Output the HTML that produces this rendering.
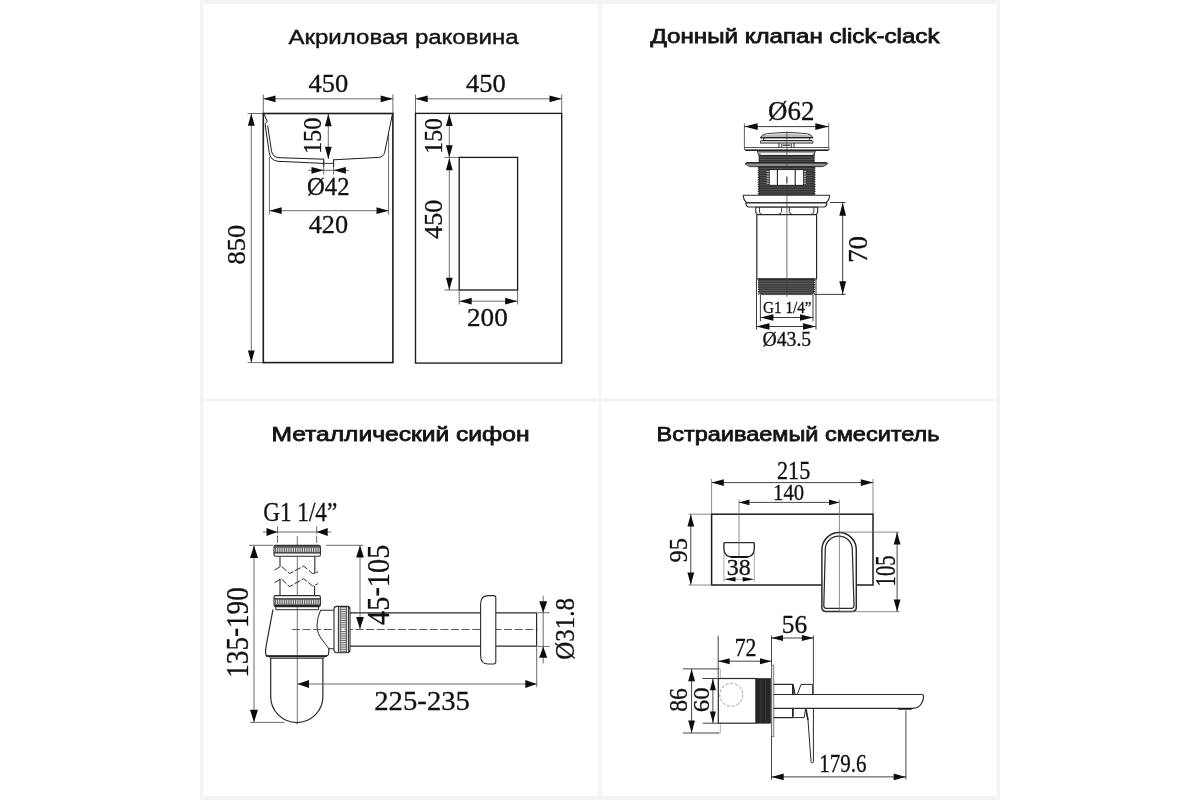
<!DOCTYPE html>
<html lang="ru">
<head>
<meta charset="utf-8">
<title>Размеры комплекта</title>
<style>
html,body{margin:0;padding:0;background:#fff;}
body{width:1200px;height:800px;overflow:hidden;}
svg{display:block;filter:blur(0.45px);}
text.d{font-family:"Liberation Serif",serif;fill:#111;stroke:#111;stroke-width:0.3;}
text.t{font-family:"Liberation Sans",sans-serif;fill:#141414;}
</style>
</head>
<body>
<svg width="1200" height="800" viewBox="0 0 1200 800">
<rect x="0" y="0" width="1200" height="800" fill="#ffffff"/>
<rect x="200" y="0" width="800" height="4" fill="#f3f3f3"/>
<rect x="200" y="796" width="800" height="4" fill="#f3f3f3"/>
<rect x="200" y="0" width="3.5" height="800" fill="#f3f3f3"/>
<rect x="996.5" y="0" width="3.5" height="800" fill="#f3f3f3"/>
<rect x="598.5" y="0" width="3" height="800" fill="#f3f3f3"/>
<rect x="200" y="398.5" width="800" height="3" fill="#f3f3f3"/>
<text class="t" x="288.5" y="43.8" font-size="19.6" textLength="230.0" lengthAdjust="spacingAndGlyphs" stroke="#141414" stroke-width="0.38">Акриловая раковина</text>
<text class="t" x="650.5" y="43.2" font-size="19.6" textLength="289.0" lengthAdjust="spacingAndGlyphs" stroke="#141414" stroke-width="0.75">Донный клапан click-clack</text>
<text class="t" x="271.5" y="441.4" font-size="19.6" textLength="258.0" lengthAdjust="spacingAndGlyphs" stroke="#141414" stroke-width="0.75">Металлический сифон</text>
<text class="t" x="656.5" y="441.4" font-size="19.6" textLength="283.0" lengthAdjust="spacingAndGlyphs" stroke="#141414" stroke-width="0.75">Встраиваемый смеситель</text>
<line x1="263.30" y1="94.50" x2="263.30" y2="113.50" stroke="#5c5c5c" stroke-width="0.9" />
<line x1="392.90" y1="94.50" x2="392.90" y2="113.50" stroke="#5c5c5c" stroke-width="0.9" />
<line x1="263.30" y1="98.80" x2="392.90" y2="98.80" stroke="#5c5c5c" stroke-width="0.9" />
<polygon points="263.30,98.80 275.50,95.40 275.50,102.20" fill="#0d0d0d"/>
<polygon points="392.90,98.80 380.70,95.40 380.70,102.20" fill="#0d0d0d"/>
<text class="d" x="328.30" y="91.80" font-size="25.5" text-anchor="middle" textLength="39.80" lengthAdjust="spacingAndGlyphs">450</text>
<line x1="247.50" y1="113.50" x2="263.30" y2="113.50" stroke="#5c5c5c" stroke-width="0.9" />
<line x1="247.50" y1="362.60" x2="263.30" y2="362.60" stroke="#5c5c5c" stroke-width="0.9" />
<line x1="251.30" y1="113.50" x2="251.30" y2="362.60" stroke="#5c5c5c" stroke-width="0.9" />
<polygon points="251.30,113.50 247.90,125.70 254.70,125.70" fill="#0d0d0d"/>
<polygon points="251.30,362.60 247.90,350.40 254.70,350.40" fill="#0d0d0d"/>
<text class="d" transform="translate(245.40,244.70) rotate(-90)" x="0" y="0" font-size="25.5" text-anchor="middle" textLength="39.60" lengthAdjust="spacingAndGlyphs">850</text>
<line x1="328.30" y1="114.10" x2="328.30" y2="159.00" stroke="#5c5c5c" stroke-width="0.9" />
<polygon points="328.30,114.10 324.90,126.30 331.70,126.30" fill="#0d0d0d"/>
<polygon points="328.30,159.00 324.90,146.80 331.70,146.80" fill="#0d0d0d"/>
<text class="d" transform="translate(320.80,135.80) rotate(-90)" x="0" y="0" font-size="25.5" text-anchor="middle" textLength="36.50" lengthAdjust="spacingAndGlyphs">150</text>
<line x1="323.70" y1="160.00" x2="323.70" y2="174.50" stroke="#5c5c5c" stroke-width="0.9" />
<line x1="333.60" y1="160.00" x2="333.60" y2="174.50" stroke="#5c5c5c" stroke-width="0.9" />
<line x1="308.50" y1="170.30" x2="348.80" y2="170.30" stroke="#5c5c5c" stroke-width="0.9" />
<polygon points="323.70,170.30 311.50,166.90 311.50,173.70" fill="#0d0d0d"/>
<polygon points="333.60,170.30 345.80,166.90 345.80,173.70" fill="#0d0d0d"/>
<text class="d" x="328.30" y="195.20" font-size="25.5" text-anchor="middle" textLength="42.50" lengthAdjust="spacingAndGlyphs">Ø42</text>
<line x1="269.40" y1="157.00" x2="269.40" y2="214.50" stroke="#5c5c5c" stroke-width="0.9" />
<line x1="388.60" y1="134.00" x2="388.60" y2="214.50" stroke="#5c5c5c" stroke-width="0.9" />
<line x1="269.40" y1="210.70" x2="388.70" y2="210.70" stroke="#5c5c5c" stroke-width="0.9" />
<polygon points="269.40,210.70 281.60,207.30 281.60,214.10" fill="#0d0d0d"/>
<polygon points="388.70,210.70 376.50,207.30 376.50,214.10" fill="#0d0d0d"/>
<text class="d" x="328.40" y="232.60" font-size="25.5" text-anchor="middle" textLength="39.50" lengthAdjust="spacingAndGlyphs">420</text>
<path d="M264.3,114.6 L267.2,121.2 L265.4,123.8 L265.2,124.8 L269.2,152.5 Q270.4,160.6 278,161.3 L323.7,163.4" stroke="#1c1c1c" stroke-width="1.0" fill="none" stroke-linejoin="round" stroke-linecap="round" />
<path d="M267.7,126 L271.6,151.4 Q272.6,157.2 279,157.7 L323.7,159.2" stroke="#1c1c1c" stroke-width="1.0" fill="none" stroke-linejoin="round" stroke-linecap="round" />
<path d="M392.3,114.6 L384.7,152.2 Q383.6,157 378.6,157.4 L333.6,159.8" stroke="#1c1c1c" stroke-width="1.0" fill="none" stroke-linejoin="round" stroke-linecap="round" />
<path d="M323.7,159.2 V166.5 M333.6,159.8 V166.5 M323.7,163.4 H333.6" stroke="#1c1c1c" stroke-width="0.9" fill="none" stroke-linejoin="round" stroke-linecap="round" />
<rect x="263.30" y="113.50" width="129.60" height="249.10" rx="0" stroke="#1c1c1c" stroke-width="1.6" fill="none" />
<line x1="415.50" y1="94.50" x2="415.50" y2="113.40" stroke="#5c5c5c" stroke-width="0.9" />
<line x1="561.70" y1="94.50" x2="561.70" y2="113.40" stroke="#5c5c5c" stroke-width="0.9" />
<line x1="415.50" y1="98.80" x2="561.70" y2="98.80" stroke="#5c5c5c" stroke-width="0.9" />
<polygon points="415.50,98.80 427.70,95.40 427.70,102.20" fill="#0d0d0d"/>
<polygon points="561.70,98.80 549.50,95.40 549.50,102.20" fill="#0d0d0d"/>
<text class="d" x="485.80" y="91.80" font-size="25.5" text-anchor="middle" textLength="39.80" lengthAdjust="spacingAndGlyphs">450</text>
<rect x="415.50" y="113.40" width="146.20" height="249.70" rx="0" stroke="#1c1c1c" stroke-width="1.35" fill="none" />
<rect x="459.20" y="157.40" width="58.40" height="132.60" rx="0" stroke="#1c1c1c" stroke-width="1.35" fill="none" />
<line x1="449.30" y1="113.90" x2="449.30" y2="157.40" stroke="#5c5c5c" stroke-width="0.9" />
<polygon points="449.30,113.90 445.90,126.10 452.70,126.10" fill="#0d0d0d"/>
<polygon points="449.30,157.40 445.90,145.20 452.70,145.20" fill="#0d0d0d"/>
<text class="d" transform="translate(442.40,135.90) rotate(-90)" x="0" y="0" font-size="25.5" text-anchor="middle" textLength="35.50" lengthAdjust="spacingAndGlyphs">150</text>
<line x1="444.50" y1="157.40" x2="459.20" y2="157.40" stroke="#5c5c5c" stroke-width="0.9" />
<line x1="444.50" y1="290.00" x2="459.20" y2="290.00" stroke="#5c5c5c" stroke-width="0.9" />
<line x1="449.30" y1="158.00" x2="449.30" y2="290.00" stroke="#5c5c5c" stroke-width="0.9" />
<polygon points="449.30,158.00 445.90,170.20 452.70,170.20" fill="#0d0d0d"/>
<polygon points="449.30,290.00 445.90,277.80 452.70,277.80" fill="#0d0d0d"/>
<text class="d" transform="translate(442.40,219.30) rotate(-90)" x="0" y="0" font-size="25.5" text-anchor="middle" textLength="39.00" lengthAdjust="spacingAndGlyphs">450</text>
<line x1="459.20" y1="290.00" x2="459.20" y2="304.60" stroke="#5c5c5c" stroke-width="0.9" />
<line x1="517.60" y1="290.00" x2="517.60" y2="304.60" stroke="#5c5c5c" stroke-width="0.9" />
<line x1="459.50" y1="301.20" x2="517.30" y2="301.20" stroke="#5c5c5c" stroke-width="0.9" />
<polygon points="459.50,301.20 471.70,297.80 471.70,304.60" fill="#0d0d0d"/>
<polygon points="517.30,301.20 505.10,297.80 505.10,304.60" fill="#0d0d0d"/>
<text class="d" x="487.40" y="326.00" font-size="25.5" text-anchor="middle" textLength="40.80" lengthAdjust="spacingAndGlyphs">200</text>
<line x1="744.40" y1="123.50" x2="744.40" y2="147.20" stroke="#3c3c3c" stroke-width="0.8" />
<line x1="828.70" y1="123.50" x2="828.70" y2="147.20" stroke="#3c3c3c" stroke-width="0.8" />
<line x1="744.40" y1="126.60" x2="828.60" y2="126.60" stroke="#3c3c3c" stroke-width="1.0" />
<polygon points="744.40,126.60 757.70,123.20 757.70,130.00" fill="#0d0d0d"/>
<polygon points="828.60,126.60 815.30,123.20 815.30,130.00" fill="#0d0d0d"/>
<text class="d" x="791.30" y="120.40" font-size="26.8" text-anchor="middle" textLength="46.40" lengthAdjust="spacingAndGlyphs">Ø62</text>
<path d="M760.6,137.4 Q761.6,134.6 767.5,133.6 Q786.9,131 806.3,133.6 Q811.8,134.6 812.8,137.4 Z" stroke="#2a2a2a" stroke-width="0.9" fill="#b9b9b9" stroke-linejoin="round" stroke-linecap="round" />
<path d="M766,134.6 Q786.9,132.4 807.6,134.6" stroke="#e8e8e8" stroke-width="0.9" fill="none" stroke-linejoin="round" stroke-linecap="round" />
<line x1="760.40" y1="137.60" x2="813.00" y2="137.60" stroke="#222" stroke-width="1.3" />
<path d="M763.6,138.4 V140.4 M809.6,138.4 V140.4" stroke="#2a2a2a" stroke-width="0.9" fill="none" stroke-linejoin="round" stroke-linecap="round" />
<line x1="761.40" y1="140.60" x2="812.00" y2="140.60" stroke="#222" stroke-width="1.1" />
<line x1="760.60" y1="143.00" x2="812.80" y2="143.00" stroke="#222" stroke-width="1.2" />
<path d="M760.6,140.8 V143 M812.8,140.8 V143" stroke="#2a2a2a" stroke-width="0.9" fill="none" stroke-linejoin="round" stroke-linecap="round" />
<path d="M779,143.4 V147.2 M794,143.4 V147.2 M781.8,144 V147 M791.2,144 V147" stroke="#2a2a2a" stroke-width="1.0" fill="none" stroke-linejoin="round" stroke-linecap="round" />
<line x1="783.00" y1="145.20" x2="790.00" y2="145.20" stroke="#333" stroke-width="1.3" />
<path d="M744.6,147.5 H829 V149.6 Q829,150.3 828,150.3 H745.6 Q744.6,150.3 744.6,149.6 Z" stroke="#2a2a2a" stroke-width="0.8" fill="#fff" stroke-linejoin="round" stroke-linecap="round" />
<line x1="745.20" y1="150.20" x2="828.40" y2="150.20" stroke="#1c1c1c" stroke-width="1.5" />
<path d="M757.8,151 H815.2 L814.2,155.2 H759 Z" stroke="#2a2a2a" stroke-width="0.9" fill="#a0a0a0" stroke-linejoin="round" stroke-linecap="round" />
<rect x="760.60" y="153.00" width="52.00" height="1.80" rx="0" stroke="none" stroke-width="0" fill="#f4f4f4" />
<rect x="759.00" y="155.40" width="55.20" height="7.60" rx="0" stroke="#1a1a1a" stroke-width="0.6" fill="#333" />
<line x1="759.40" y1="157.20" x2="813.80" y2="157.20" stroke="#7a7a7a" stroke-width="0.5" />
<line x1="759.40" y1="159.50" x2="813.80" y2="159.50" stroke="#7a7a7a" stroke-width="0.5" />
<line x1="759.40" y1="161.80" x2="813.80" y2="161.80" stroke="#7a7a7a" stroke-width="0.5" />
<path d="M745.2,163.6 Q745.6,162.6 747.4,162.6 H825.6 Q827.4,162.6 827.8,163.6 L823.2,166.6 H749.8 Z" stroke="#2a2a2a" stroke-width="0.9" fill="#8f8f8f" stroke-linejoin="round" stroke-linecap="round" />
<line x1="746.40" y1="162.90" x2="826.60" y2="162.90" stroke="#222" stroke-width="1.2" />
<rect x="759.00" y="166.80" width="55.20" height="28.20" rx="0" stroke="#1a1a1a" stroke-width="0.6" fill="#333" />
<line x1="759.40" y1="168.40" x2="813.80" y2="168.40" stroke="#777" stroke-width="0.5" />
<line x1="759.40" y1="170.75" x2="813.80" y2="170.75" stroke="#777" stroke-width="0.5" />
<line x1="759.40" y1="173.10" x2="813.80" y2="173.10" stroke="#777" stroke-width="0.5" />
<line x1="759.40" y1="175.45" x2="813.80" y2="175.45" stroke="#777" stroke-width="0.5" />
<line x1="759.40" y1="177.80" x2="813.80" y2="177.80" stroke="#777" stroke-width="0.5" />
<line x1="759.40" y1="180.15" x2="813.80" y2="180.15" stroke="#777" stroke-width="0.5" />
<line x1="759.40" y1="182.50" x2="813.80" y2="182.50" stroke="#777" stroke-width="0.5" />
<line x1="759.40" y1="184.85" x2="813.80" y2="184.85" stroke="#777" stroke-width="0.5" />
<line x1="759.40" y1="187.20" x2="813.80" y2="187.20" stroke="#777" stroke-width="0.5" />
<line x1="759.40" y1="189.55" x2="813.80" y2="189.55" stroke="#777" stroke-width="0.5" />
<line x1="759.40" y1="191.90" x2="813.80" y2="191.90" stroke="#777" stroke-width="0.5" />
<line x1="759.40" y1="194.25" x2="813.80" y2="194.25" stroke="#777" stroke-width="0.5" />
<line x1="757.80" y1="167.90" x2="759.20" y2="167.90" stroke="#1a1a1a" stroke-width="1.2" />
<line x1="814.00" y1="167.90" x2="815.40" y2="167.90" stroke="#1a1a1a" stroke-width="1.2" />
<line x1="757.80" y1="170.25" x2="759.20" y2="170.25" stroke="#1a1a1a" stroke-width="1.2" />
<line x1="814.00" y1="170.25" x2="815.40" y2="170.25" stroke="#1a1a1a" stroke-width="1.2" />
<line x1="757.80" y1="172.60" x2="759.20" y2="172.60" stroke="#1a1a1a" stroke-width="1.2" />
<line x1="814.00" y1="172.60" x2="815.40" y2="172.60" stroke="#1a1a1a" stroke-width="1.2" />
<line x1="757.80" y1="174.95" x2="759.20" y2="174.95" stroke="#1a1a1a" stroke-width="1.2" />
<line x1="814.00" y1="174.95" x2="815.40" y2="174.95" stroke="#1a1a1a" stroke-width="1.2" />
<line x1="757.80" y1="177.30" x2="759.20" y2="177.30" stroke="#1a1a1a" stroke-width="1.2" />
<line x1="814.00" y1="177.30" x2="815.40" y2="177.30" stroke="#1a1a1a" stroke-width="1.2" />
<line x1="757.80" y1="179.65" x2="759.20" y2="179.65" stroke="#1a1a1a" stroke-width="1.2" />
<line x1="814.00" y1="179.65" x2="815.40" y2="179.65" stroke="#1a1a1a" stroke-width="1.2" />
<line x1="757.80" y1="182.00" x2="759.20" y2="182.00" stroke="#1a1a1a" stroke-width="1.2" />
<line x1="814.00" y1="182.00" x2="815.40" y2="182.00" stroke="#1a1a1a" stroke-width="1.2" />
<line x1="757.80" y1="184.35" x2="759.20" y2="184.35" stroke="#1a1a1a" stroke-width="1.2" />
<line x1="814.00" y1="184.35" x2="815.40" y2="184.35" stroke="#1a1a1a" stroke-width="1.2" />
<line x1="757.80" y1="186.70" x2="759.20" y2="186.70" stroke="#1a1a1a" stroke-width="1.2" />
<line x1="814.00" y1="186.70" x2="815.40" y2="186.70" stroke="#1a1a1a" stroke-width="1.2" />
<line x1="757.80" y1="189.05" x2="759.20" y2="189.05" stroke="#1a1a1a" stroke-width="1.2" />
<line x1="814.00" y1="189.05" x2="815.40" y2="189.05" stroke="#1a1a1a" stroke-width="1.2" />
<line x1="757.80" y1="191.40" x2="759.20" y2="191.40" stroke="#1a1a1a" stroke-width="1.2" />
<line x1="814.00" y1="191.40" x2="815.40" y2="191.40" stroke="#1a1a1a" stroke-width="1.2" />
<line x1="757.80" y1="193.75" x2="759.20" y2="193.75" stroke="#1a1a1a" stroke-width="1.2" />
<line x1="814.00" y1="193.75" x2="815.40" y2="193.75" stroke="#1a1a1a" stroke-width="1.2" />
<rect x="769.20" y="169.60" width="34.20" height="15.70" rx="0" stroke="#1a1a1a" stroke-width="0.9" fill="#ffffff" />
<line x1="777.40" y1="170.00" x2="777.40" y2="185.00" stroke="#222" stroke-width="1.1" />
<line x1="795.20" y1="170.00" x2="795.20" y2="185.00" stroke="#222" stroke-width="1.1" />
<line x1="786.90" y1="176.40" x2="786.90" y2="183.60" stroke="#222" stroke-width="1.1" />
<line x1="766.60" y1="171.60" x2="769.00" y2="171.60" stroke="#e6e6e6" stroke-width="0.8" />
<line x1="803.60" y1="171.60" x2="806.00" y2="171.60" stroke="#e6e6e6" stroke-width="0.8" />
<line x1="766.60" y1="173.95" x2="769.00" y2="173.95" stroke="#e6e6e6" stroke-width="0.8" />
<line x1="803.60" y1="173.95" x2="806.00" y2="173.95" stroke="#e6e6e6" stroke-width="0.8" />
<line x1="766.60" y1="176.30" x2="769.00" y2="176.30" stroke="#e6e6e6" stroke-width="0.8" />
<line x1="803.60" y1="176.30" x2="806.00" y2="176.30" stroke="#e6e6e6" stroke-width="0.8" />
<line x1="766.60" y1="178.65" x2="769.00" y2="178.65" stroke="#e6e6e6" stroke-width="0.8" />
<line x1="803.60" y1="178.65" x2="806.00" y2="178.65" stroke="#e6e6e6" stroke-width="0.8" />
<line x1="766.60" y1="181.00" x2="769.00" y2="181.00" stroke="#e6e6e6" stroke-width="0.8" />
<line x1="803.60" y1="181.00" x2="806.00" y2="181.00" stroke="#e6e6e6" stroke-width="0.8" />
<line x1="766.60" y1="183.35" x2="769.00" y2="183.35" stroke="#e6e6e6" stroke-width="0.8" />
<line x1="803.60" y1="183.35" x2="806.00" y2="183.35" stroke="#e6e6e6" stroke-width="0.8" />
<path d="M743.2,195.2 H829.6 Q829.6,199.6 826,202.7 H746.8 Q743.2,199.6 743.2,195.2 Z" stroke="#2a2a2a" stroke-width="1.1" fill="#ffffff" stroke-linejoin="round" stroke-linecap="round" />
<path d="M745.8,202.9 H827 Q827.2,205.6 824.6,207 H748.2 Q745.6,205.6 745.8,202.9 Z" stroke="#2a2a2a" stroke-width="1.1" fill="#ffffff" stroke-linejoin="round" stroke-linecap="round" />
<path d="M755.8,207.2 H817.6 V212.6 L815.8,214.6 H757.6 L755.8,212.6 Z" stroke="#2a2a2a" stroke-width="1.1" fill="#ffffff" stroke-linejoin="round" stroke-linecap="round" />
<path d="M759.5,207.4 V212 Q759.5,214.2 762,214.4 M781.6,207.4 V211.5 Q781.6,214 778.5,214.4 M789.3,207.4 V211.5 Q789.3,214 792.4,214.4 M813.9,207.4 V212 Q813.9,214.2 811.4,214.4" stroke="#2a2a2a" stroke-width="0.9" fill="none" stroke-linejoin="round" stroke-linecap="round" />
<path d="M756.8,214.8 V278.8 M816.6,214.8 V278.8 M756.8,278.8 H816.6" stroke="#2a2a2a" stroke-width="1.2" fill="none" stroke-linejoin="round" stroke-linecap="round" />
<path d="M759.2,279 H813.8 V292.4 L812.4,294.6 H760.6 L759.2,292.4 Z" stroke="#1a1a1a" stroke-width="0.6" fill="#3a3a3a" stroke-linejoin="round" stroke-linecap="round" />
<line x1="759.60" y1="281.20" x2="813.40" y2="281.20" stroke="#858585" stroke-width="0.5" />
<line x1="759.60" y1="283.50" x2="813.40" y2="283.50" stroke="#858585" stroke-width="0.5" />
<line x1="759.60" y1="285.80" x2="813.40" y2="285.80" stroke="#858585" stroke-width="0.5" />
<line x1="759.60" y1="288.10" x2="813.40" y2="288.10" stroke="#858585" stroke-width="0.5" />
<line x1="759.60" y1="290.40" x2="813.40" y2="290.40" stroke="#858585" stroke-width="0.5" />
<line x1="759.60" y1="292.70" x2="813.40" y2="292.70" stroke="#858585" stroke-width="0.5" />
<line x1="757.90" y1="280.20" x2="759.40" y2="280.20" stroke="#1a1a1a" stroke-width="1.2" />
<line x1="813.60" y1="280.20" x2="815.10" y2="280.20" stroke="#1a1a1a" stroke-width="1.2" />
<line x1="757.90" y1="282.50" x2="759.40" y2="282.50" stroke="#1a1a1a" stroke-width="1.2" />
<line x1="813.60" y1="282.50" x2="815.10" y2="282.50" stroke="#1a1a1a" stroke-width="1.2" />
<line x1="757.90" y1="284.80" x2="759.40" y2="284.80" stroke="#1a1a1a" stroke-width="1.2" />
<line x1="813.60" y1="284.80" x2="815.10" y2="284.80" stroke="#1a1a1a" stroke-width="1.2" />
<line x1="757.90" y1="287.10" x2="759.40" y2="287.10" stroke="#1a1a1a" stroke-width="1.2" />
<line x1="813.60" y1="287.10" x2="815.10" y2="287.10" stroke="#1a1a1a" stroke-width="1.2" />
<line x1="757.90" y1="289.40" x2="759.40" y2="289.40" stroke="#1a1a1a" stroke-width="1.2" />
<line x1="813.60" y1="289.40" x2="815.10" y2="289.40" stroke="#1a1a1a" stroke-width="1.2" />
<line x1="757.90" y1="291.70" x2="759.40" y2="291.70" stroke="#1a1a1a" stroke-width="1.2" />
<line x1="813.60" y1="291.70" x2="815.10" y2="291.70" stroke="#1a1a1a" stroke-width="1.2" />
<line x1="757.90" y1="294.00" x2="759.40" y2="294.00" stroke="#1a1a1a" stroke-width="1.2" />
<line x1="813.60" y1="294.00" x2="815.10" y2="294.00" stroke="#1a1a1a" stroke-width="1.2" />
<line x1="786.90" y1="131.50" x2="786.90" y2="169.40" stroke="#3a3a3a" stroke-width="0.7" />
<line x1="786.90" y1="185.40" x2="786.90" y2="297.00" stroke="#3a3a3a" stroke-width="0.7" />
<line x1="830.00" y1="202.50" x2="845.50" y2="202.50" stroke="#3c3c3c" stroke-width="1.0" />
<line x1="814.80" y1="294.40" x2="845.60" y2="294.40" stroke="#3c3c3c" stroke-width="1.0" />
<line x1="842.70" y1="202.80" x2="842.70" y2="294.20" stroke="#3c3c3c" stroke-width="1.0" />
<polygon points="842.70,202.80 839.30,215.80 846.10,215.80" fill="#0d0d0d"/>
<polygon points="842.70,294.20 839.30,281.20 846.10,281.20" fill="#0d0d0d"/>
<text class="d" transform="translate(866.70,249.40) rotate(-90)" x="0" y="0" font-size="26.5" text-anchor="middle" textLength="26.80" lengthAdjust="spacingAndGlyphs">70</text>
<line x1="760.40" y1="295.00" x2="760.40" y2="321.30" stroke="#3c3c3c" stroke-width="1.0" />
<line x1="813.00" y1="295.00" x2="813.00" y2="321.30" stroke="#3c3c3c" stroke-width="1.0" />
<line x1="760.40" y1="317.50" x2="813.00" y2="317.50" stroke="#3c3c3c" stroke-width="1.0" />
<polygon points="760.40,317.50 773.40,314.30 773.40,320.70" fill="#0d0d0d"/>
<polygon points="813.00,317.50 800.00,314.30 800.00,320.70" fill="#0d0d0d"/>
<text class="d" x="787.30" y="312.70" font-size="17.2" text-anchor="middle" textLength="48.60" lengthAdjust="spacingAndGlyphs">G1 1/4”</text>
<line x1="756.50" y1="279.00" x2="756.50" y2="329.50" stroke="#3c3c3c" stroke-width="1.0" />
<line x1="816.00" y1="279.00" x2="816.00" y2="329.50" stroke="#3c3c3c" stroke-width="1.0" />
<line x1="756.50" y1="326.50" x2="816.00" y2="326.50" stroke="#3c3c3c" stroke-width="1.0" />
<polygon points="756.50,326.50 769.50,323.20 769.50,329.80" fill="#0d0d0d"/>
<polygon points="816.00,326.50 803.00,323.20 803.00,329.80" fill="#0d0d0d"/>
<text class="d" x="786.80" y="345.80" font-size="20" text-anchor="middle" textLength="48.80" lengthAdjust="spacingAndGlyphs">Ø43.5</text>
<text class="d" x="300.20" y="520.80" font-size="27.7" text-anchor="middle" textLength="74.00" lengthAdjust="spacingAndGlyphs">G1 1/4”</text>
<line x1="277.50" y1="526.40" x2="277.50" y2="544.50" stroke="#5c5c5c" stroke-width="0.9" stroke-dasharray="7.4 1.8"/>
<line x1="316.70" y1="526.40" x2="316.70" y2="544.50" stroke="#5c5c5c" stroke-width="0.9" stroke-dasharray="7.4 1.8"/>
<line x1="262.90" y1="532.00" x2="331.30" y2="532.00" stroke="#5c5c5c" stroke-width="0.9" />
<polygon points="277.50,532.00 266.50,528.10 266.50,535.90" fill="#0d0d0d"/>
<polygon points="316.70,532.00 327.70,528.10 327.70,535.90" fill="#0d0d0d"/>
<line x1="297.30" y1="536.00" x2="297.30" y2="724.50" stroke="#3a3a3a" stroke-width="0.7" />
<line x1="292.00" y1="629.50" x2="537.50" y2="629.50" stroke="#4a4a4a" stroke-width="0.9" stroke-dasharray="8 2.6"/>
<path d="M275.4,545.2 H319.0 Q320.4,545.2 320.4,547.0 V554.5 Q320.4,556.3 319.0,556.3 H275.4 Q274.0,556.3 274.0,554.5 V547.0 Q274.0,545.2 275.4,545.2 Z" stroke="#2a2a2a" stroke-width="1.1" fill="#fff" stroke-linejoin="round" stroke-linecap="round" />
<line x1="274.60" y1="546.10" x2="319.80" y2="546.10" stroke="#222" stroke-width="1.5" />
<line x1="274.00" y1="553.00" x2="320.40" y2="553.00" stroke="#222" stroke-width="1.1" />
<line x1="274.00" y1="547.40" x2="320.40" y2="547.40" stroke="#2a2a2a" stroke-width="0.7" />
<line x1="274.00" y1="552.40" x2="320.40" y2="552.40" stroke="#2a2a2a" stroke-width="0.7" />
<line x1="275.60" y1="547.70" x2="275.60" y2="552.20" stroke="#2a2a2a" stroke-width="0.8" />
<line x1="277.40" y1="547.70" x2="277.40" y2="552.20" stroke="#2a2a2a" stroke-width="0.8" />
<line x1="279.20" y1="547.70" x2="279.20" y2="552.20" stroke="#2a2a2a" stroke-width="0.8" />
<line x1="281.00" y1="547.70" x2="281.00" y2="552.20" stroke="#2a2a2a" stroke-width="0.8" />
<line x1="282.80" y1="547.70" x2="282.80" y2="552.20" stroke="#2a2a2a" stroke-width="0.8" />
<line x1="284.60" y1="547.70" x2="284.60" y2="552.20" stroke="#2a2a2a" stroke-width="0.8" />
<line x1="286.40" y1="547.70" x2="286.40" y2="552.20" stroke="#2a2a2a" stroke-width="0.8" />
<line x1="288.20" y1="547.70" x2="288.20" y2="552.20" stroke="#2a2a2a" stroke-width="0.8" />
<line x1="290.00" y1="547.70" x2="290.00" y2="552.20" stroke="#2a2a2a" stroke-width="0.8" />
<line x1="291.80" y1="547.70" x2="291.80" y2="552.20" stroke="#2a2a2a" stroke-width="0.8" />
<line x1="293.60" y1="547.70" x2="293.60" y2="552.20" stroke="#2a2a2a" stroke-width="0.8" />
<line x1="295.40" y1="547.70" x2="295.40" y2="552.20" stroke="#2a2a2a" stroke-width="0.8" />
<line x1="297.20" y1="547.70" x2="297.20" y2="552.20" stroke="#2a2a2a" stroke-width="0.8" />
<line x1="299.00" y1="547.70" x2="299.00" y2="552.20" stroke="#2a2a2a" stroke-width="0.8" />
<line x1="300.80" y1="547.70" x2="300.80" y2="552.20" stroke="#2a2a2a" stroke-width="0.8" />
<line x1="302.60" y1="547.70" x2="302.60" y2="552.20" stroke="#2a2a2a" stroke-width="0.8" />
<line x1="304.40" y1="547.70" x2="304.40" y2="552.20" stroke="#2a2a2a" stroke-width="0.8" />
<line x1="306.20" y1="547.70" x2="306.20" y2="552.20" stroke="#2a2a2a" stroke-width="0.8" />
<line x1="308.00" y1="547.70" x2="308.00" y2="552.20" stroke="#2a2a2a" stroke-width="0.8" />
<line x1="309.80" y1="547.70" x2="309.80" y2="552.20" stroke="#2a2a2a" stroke-width="0.8" />
<line x1="311.60" y1="547.70" x2="311.60" y2="552.20" stroke="#2a2a2a" stroke-width="0.8" />
<line x1="313.40" y1="547.70" x2="313.40" y2="552.20" stroke="#2a2a2a" stroke-width="0.8" />
<line x1="315.20" y1="547.70" x2="315.20" y2="552.20" stroke="#2a2a2a" stroke-width="0.8" />
<line x1="317.00" y1="547.70" x2="317.00" y2="552.20" stroke="#2a2a2a" stroke-width="0.8" />
<line x1="318.80" y1="547.70" x2="318.80" y2="552.20" stroke="#2a2a2a" stroke-width="0.8" />
<path d="M280.0,556.5 V566 M314.8,556.5 V573.4" stroke="#2a2a2a" stroke-width="1.1" fill="none" stroke-linejoin="round" stroke-linecap="round" />
<path d="M274.6,570 L281.2,566.1 L289.5,573.6 L303.7,566.1 L312.6,573.6 L318,571.8" stroke="#2a2a2a" stroke-width="1.0" fill="none" stroke-linejoin="round" stroke-linecap="butt" stroke-dasharray="6.5 1.8"/>
<path d="M274.6,582.5 L281.2,578.7 L289.5,586.7 L303.7,578.7 L312.6,586 L318,583.7" stroke="#2a2a2a" stroke-width="1.0" fill="none" stroke-linejoin="round" stroke-linecap="butt" stroke-dasharray="6.5 1.8"/>
<path d="M280.0,579 V595.6 M314.6,586.4 V595.6" stroke="#2a2a2a" stroke-width="1.1" fill="none" stroke-linejoin="round" stroke-linecap="round" />
<path d="M275.4,595.6 H319.0 Q320.4,595.6 320.4,597.4 V604.8000000000001 Q320.4,606.6 319.0,606.6 H275.4 Q274.0,606.6 274.0,604.8000000000001 V597.4 Q274.0,595.6 275.4,595.6 Z" stroke="#2a2a2a" stroke-width="1.1" fill="#fff" stroke-linejoin="round" stroke-linecap="round" />
<line x1="274.00" y1="598.80" x2="320.40" y2="598.80" stroke="#222" stroke-width="1.1" />
<line x1="274.60" y1="605.80" x2="319.80" y2="605.80" stroke="#222" stroke-width="1.4" />
<line x1="274.00" y1="599.30" x2="320.40" y2="599.30" stroke="#2a2a2a" stroke-width="0.7" />
<line x1="274.00" y1="604.40" x2="320.40" y2="604.40" stroke="#2a2a2a" stroke-width="0.7" />
<line x1="275.60" y1="599.60" x2="275.60" y2="604.20" stroke="#2a2a2a" stroke-width="0.8" />
<line x1="277.40" y1="599.60" x2="277.40" y2="604.20" stroke="#2a2a2a" stroke-width="0.8" />
<line x1="279.20" y1="599.60" x2="279.20" y2="604.20" stroke="#2a2a2a" stroke-width="0.8" />
<line x1="281.00" y1="599.60" x2="281.00" y2="604.20" stroke="#2a2a2a" stroke-width="0.8" />
<line x1="282.80" y1="599.60" x2="282.80" y2="604.20" stroke="#2a2a2a" stroke-width="0.8" />
<line x1="284.60" y1="599.60" x2="284.60" y2="604.20" stroke="#2a2a2a" stroke-width="0.8" />
<line x1="286.40" y1="599.60" x2="286.40" y2="604.20" stroke="#2a2a2a" stroke-width="0.8" />
<line x1="288.20" y1="599.60" x2="288.20" y2="604.20" stroke="#2a2a2a" stroke-width="0.8" />
<line x1="290.00" y1="599.60" x2="290.00" y2="604.20" stroke="#2a2a2a" stroke-width="0.8" />
<line x1="291.80" y1="599.60" x2="291.80" y2="604.20" stroke="#2a2a2a" stroke-width="0.8" />
<line x1="293.60" y1="599.60" x2="293.60" y2="604.20" stroke="#2a2a2a" stroke-width="0.8" />
<line x1="295.40" y1="599.60" x2="295.40" y2="604.20" stroke="#2a2a2a" stroke-width="0.8" />
<line x1="297.20" y1="599.60" x2="297.20" y2="604.20" stroke="#2a2a2a" stroke-width="0.8" />
<line x1="299.00" y1="599.60" x2="299.00" y2="604.20" stroke="#2a2a2a" stroke-width="0.8" />
<line x1="300.80" y1="599.60" x2="300.80" y2="604.20" stroke="#2a2a2a" stroke-width="0.8" />
<line x1="302.60" y1="599.60" x2="302.60" y2="604.20" stroke="#2a2a2a" stroke-width="0.8" />
<line x1="304.40" y1="599.60" x2="304.40" y2="604.20" stroke="#2a2a2a" stroke-width="0.8" />
<line x1="306.20" y1="599.60" x2="306.20" y2="604.20" stroke="#2a2a2a" stroke-width="0.8" />
<line x1="308.00" y1="599.60" x2="308.00" y2="604.20" stroke="#2a2a2a" stroke-width="0.8" />
<line x1="309.80" y1="599.60" x2="309.80" y2="604.20" stroke="#2a2a2a" stroke-width="0.8" />
<line x1="311.60" y1="599.60" x2="311.60" y2="604.20" stroke="#2a2a2a" stroke-width="0.8" />
<line x1="313.40" y1="599.60" x2="313.40" y2="604.20" stroke="#2a2a2a" stroke-width="0.8" />
<line x1="315.20" y1="599.60" x2="315.20" y2="604.20" stroke="#2a2a2a" stroke-width="0.8" />
<line x1="317.00" y1="599.60" x2="317.00" y2="604.20" stroke="#2a2a2a" stroke-width="0.8" />
<line x1="318.80" y1="599.60" x2="318.80" y2="604.20" stroke="#2a2a2a" stroke-width="0.8" />
<path d="M275.8,606.8 V609.7 H318.6 V606.8" stroke="#2a2a2a" stroke-width="1.0" fill="none" stroke-linejoin="round" stroke-linecap="round" />
<path d="M272.9,609.8 L267.4,639 Q265.5,649 265.5,652.6 Q265.5,655 267,655.8 H327 Q328.8,655.2 328.8,652.4 L328.8,648.6" stroke="#2a2a2a" stroke-width="1.2" fill="none" stroke-linejoin="round" stroke-linecap="round" />
<path d="M320.5,610.3 Q317.2,618 317,625 Q317,634 322.4,640 L328.8,648.6" stroke="#2a2a2a" stroke-width="1.0" fill="none" stroke-linejoin="round" stroke-linecap="round" />
<path d="M320.5,610.3 H334 M328.8,648.8 H334" stroke="#2a2a2a" stroke-width="1.1" fill="none" stroke-linejoin="round" stroke-linecap="round" />
<path d="M266,655.6 Q269.6,656.2 270.6,658.4 M327,655.6 Q323.6,656.4 323,658.4" stroke="#2a2a2a" stroke-width="0.9" fill="none" stroke-linejoin="round" stroke-linecap="round" />
<path d="M270.7,658.2 H322.9 M270.7,658.2 V696.5 A26.1,26.1 0 0 0 322.9,696.5 V658.2" stroke="#2a2a2a" stroke-width="1.2" fill="none" stroke-linejoin="round" stroke-linecap="round" />
<line x1="266.40" y1="656.20" x2="327.00" y2="656.20" stroke="#222" stroke-width="1.5" />
<path d="M336.6,606.4 H347.4 Q350,606.6 350,609.4 V649.8 Q350,652.5 347.4,652.7 H336.6 Q334,652.5 334,649.8 V609.4 Q334,606.6 336.6,606.4 Z" stroke="#2a2a2a" stroke-width="1.1" fill="#fff" stroke-linejoin="round" stroke-linecap="round" />
<line x1="338.40" y1="606.80" x2="338.40" y2="652.40" stroke="#222" stroke-width="1.0" />
<line x1="340.20" y1="606.60" x2="340.20" y2="652.60" stroke="#2a2a2a" stroke-width="0.8" />
<line x1="346.40" y1="606.60" x2="346.40" y2="652.60" stroke="#2a2a2a" stroke-width="0.8" />
<line x1="348.40" y1="606.80" x2="348.40" y2="652.40" stroke="#222" stroke-width="1.0" />
<line x1="340.40" y1="607.80" x2="346.20" y2="607.80" stroke="#3a3a3a" stroke-width="0.75" />
<line x1="340.40" y1="609.62" x2="346.20" y2="609.62" stroke="#3a3a3a" stroke-width="0.75" />
<line x1="340.40" y1="611.44" x2="346.20" y2="611.44" stroke="#3a3a3a" stroke-width="0.75" />
<line x1="340.40" y1="613.26" x2="346.20" y2="613.26" stroke="#3a3a3a" stroke-width="0.75" />
<line x1="340.40" y1="615.08" x2="346.20" y2="615.08" stroke="#3a3a3a" stroke-width="0.75" />
<line x1="340.40" y1="616.90" x2="346.20" y2="616.90" stroke="#3a3a3a" stroke-width="0.75" />
<line x1="340.40" y1="618.72" x2="346.20" y2="618.72" stroke="#3a3a3a" stroke-width="0.75" />
<line x1="340.40" y1="620.54" x2="346.20" y2="620.54" stroke="#3a3a3a" stroke-width="0.75" />
<line x1="340.40" y1="622.36" x2="346.20" y2="622.36" stroke="#3a3a3a" stroke-width="0.75" />
<line x1="340.40" y1="624.18" x2="346.20" y2="624.18" stroke="#3a3a3a" stroke-width="0.75" />
<line x1="340.40" y1="626.00" x2="346.20" y2="626.00" stroke="#3a3a3a" stroke-width="0.75" />
<line x1="340.40" y1="627.82" x2="346.20" y2="627.82" stroke="#3a3a3a" stroke-width="0.75" />
<line x1="340.40" y1="629.64" x2="346.20" y2="629.64" stroke="#3a3a3a" stroke-width="0.75" />
<line x1="340.40" y1="631.46" x2="346.20" y2="631.46" stroke="#3a3a3a" stroke-width="0.75" />
<line x1="340.40" y1="633.28" x2="346.20" y2="633.28" stroke="#3a3a3a" stroke-width="0.75" />
<line x1="340.40" y1="635.10" x2="346.20" y2="635.10" stroke="#3a3a3a" stroke-width="0.75" />
<line x1="340.40" y1="636.92" x2="346.20" y2="636.92" stroke="#3a3a3a" stroke-width="0.75" />
<line x1="340.40" y1="638.74" x2="346.20" y2="638.74" stroke="#3a3a3a" stroke-width="0.75" />
<line x1="340.40" y1="640.56" x2="346.20" y2="640.56" stroke="#3a3a3a" stroke-width="0.75" />
<line x1="340.40" y1="642.38" x2="346.20" y2="642.38" stroke="#3a3a3a" stroke-width="0.75" />
<line x1="340.40" y1="644.20" x2="346.20" y2="644.20" stroke="#3a3a3a" stroke-width="0.75" />
<line x1="340.40" y1="646.02" x2="346.20" y2="646.02" stroke="#3a3a3a" stroke-width="0.75" />
<line x1="340.40" y1="647.84" x2="346.20" y2="647.84" stroke="#3a3a3a" stroke-width="0.75" />
<line x1="340.40" y1="649.66" x2="346.20" y2="649.66" stroke="#3a3a3a" stroke-width="0.75" />
<line x1="340.40" y1="651.48" x2="346.20" y2="651.48" stroke="#3a3a3a" stroke-width="0.75" />
<rect x="342.00" y="628.60" width="2.60" height="2.20" rx="0" stroke="none" stroke-width="0" fill="#fff" />
<path d="M350,612.8 H480.6 M350,646.1 H480.6 M495.6,612.8 H536.6 V646.1 H495.6" stroke="#2a2a2a" stroke-width="1.2" fill="none" stroke-linejoin="round" stroke-linecap="round" />
<path d="M488.2,595.6 H493.6 Q495.8,595.6 495.8,597.8 V661.8 Q495.8,664 493.6,664 H488.2 Q480.6,664 480.6,655.4 V604.2 Q480.6,595.6 488.2,595.6 Z" stroke="#2a2a2a" stroke-width="1.1" fill="#fff" stroke-linejoin="round" stroke-linecap="round" />
<line x1="249.00" y1="545.30" x2="273.00" y2="545.30" stroke="#5c5c5c" stroke-width="0.9" />
<line x1="250.00" y1="722.40" x2="284.50" y2="722.40" stroke="#5c5c5c" stroke-width="0.9" />
<line x1="254.00" y1="545.50" x2="254.00" y2="722.20" stroke="#5c5c5c" stroke-width="0.9" />
<polygon points="254.00,545.50 250.00,557.90 258.00,557.90" fill="#0d0d0d"/>
<polygon points="254.00,722.20 250.00,709.80 258.00,709.80" fill="#0d0d0d"/>
<text class="d" transform="translate(248.10,632.50) rotate(-90)" x="0" y="0" font-size="31.5" text-anchor="middle" textLength="90.60" lengthAdjust="spacingAndGlyphs">135<tspan dy="-4.2">-</tspan><tspan dy="4.2">190</tspan></text>
<line x1="325.80" y1="545.30" x2="363.20" y2="545.30" stroke="#5c5c5c" stroke-width="0.9" />
<line x1="360.00" y1="545.50" x2="360.00" y2="629.00" stroke="#5c5c5c" stroke-width="0.9" />
<polygon points="360.00,545.50 356.10,557.50 363.90,557.50" fill="#0d0d0d"/>
<polygon points="360.00,629.00 356.10,617.00 363.90,617.00" fill="#0d0d0d"/>
<text class="d" transform="translate(388.90,584.80) rotate(-90)" x="0" y="0" font-size="31" text-anchor="middle" textLength="80.20" lengthAdjust="spacingAndGlyphs">45<tspan dy="-3.6">-</tspan><tspan dy="3.6">105</tspan></text>
<line x1="537.60" y1="612.70" x2="549.70" y2="612.70" stroke="#5c5c5c" stroke-width="0.9" />
<line x1="537.60" y1="646.40" x2="549.70" y2="646.40" stroke="#5c5c5c" stroke-width="0.9" />
<line x1="543.20" y1="595.70" x2="543.20" y2="663.40" stroke="#5c5c5c" stroke-width="0.9" />
<polygon points="543.20,612.70 539.20,601.30 547.20,601.30" fill="#0d0d0d"/>
<polygon points="543.20,646.40 539.20,657.80 547.20,657.80" fill="#0d0d0d"/>
<text class="d" transform="translate(574.30,628.90) rotate(-90)" x="0" y="0" font-size="28" text-anchor="middle" textLength="61.90" lengthAdjust="spacingAndGlyphs">Ø31.8</text>
<line x1="536.70" y1="646.00" x2="536.70" y2="687.20" stroke="#5c5c5c" stroke-width="0.9" />
<line x1="297.60" y1="684.00" x2="536.70" y2="684.00" stroke="#5c5c5c" stroke-width="0.9" />
<polygon points="297.60,684.00 309.00,680.00 309.00,688.00" fill="#0d0d0d"/>
<polygon points="536.70,684.00 525.30,680.00 525.30,688.00" fill="#0d0d0d"/>
<text class="d" x="422.10" y="710.30" font-size="28.3" text-anchor="middle" textLength="95.80" lengthAdjust="spacingAndGlyphs">225<tspan dy="-1.8">-</tspan><tspan dy="1.8">235</tspan></text>
<line x1="711.60" y1="479.00" x2="711.60" y2="514.20" stroke="#6e6e6e" stroke-width="0.8" />
<line x1="873.00" y1="479.00" x2="873.00" y2="514.20" stroke="#6e6e6e" stroke-width="0.8" />
<line x1="711.60" y1="482.60" x2="873.00" y2="482.60" stroke="#3c3c3c" stroke-width="0.95" />
<polygon points="711.60,482.60 723.80,479.20 723.80,486.00" fill="#0d0d0d"/>
<polygon points="873.00,482.60 860.80,479.20 860.80,486.00" fill="#0d0d0d"/>
<text class="d" x="793.60" y="479.20" font-size="25.5" text-anchor="middle" textLength="33.40" lengthAdjust="spacingAndGlyphs">215</text>
<line x1="739.00" y1="502.40" x2="839.40" y2="502.40" stroke="#3c3c3c" stroke-width="0.95" />
<polygon points="739.00,502.40 749.40,499.50 749.40,505.30" fill="#0d0d0d"/>
<polygon points="839.40,502.40 829.00,499.50 829.00,505.30" fill="#0d0d0d"/>
<text class="d" x="788.60" y="499.90" font-size="23" text-anchor="middle" textLength="31.00" lengthAdjust="spacingAndGlyphs">140</text>
<rect x="711.60" y="514.20" width="161.40" height="70.80" rx="0" stroke="#1c1c1c" stroke-width="1.5" fill="none" />
<path d="M724.6,542.6 H753.6 Q754.3,542.6 754.3,543.4 V548.5 Q754.3,557.2 744.5,557.2 H733.7 Q723.9,557.2 723.9,548.5 V543.4 Q723.9,542.6 724.6,542.6 Z" stroke="#2a2a2a" stroke-width="1.4" fill="#fff" stroke-linejoin="round" stroke-linecap="round" />
<line x1="730.50" y1="556.90" x2="748.20" y2="556.90" stroke="#111" stroke-width="1.8" />
<line x1="739.00" y1="499.50" x2="739.00" y2="556.40" stroke="#6e6e6e" stroke-width="0.8" />
<line x1="839.40" y1="499.50" x2="839.40" y2="612.20" stroke="#6e6e6e" stroke-width="0.8" />
<line x1="723.90" y1="550.00" x2="723.90" y2="581.60" stroke="#8a8a8a" stroke-width="0.7" />
<line x1="754.30" y1="550.00" x2="754.30" y2="581.60" stroke="#8a8a8a" stroke-width="0.7" />
<line x1="735.00" y1="579.20" x2="744.00" y2="579.20" stroke="#8a8a8a" stroke-width="0.7" />
<polygon points="723.90,579.20 735.50,577.00 735.50,581.40" fill="#0d0d0d"/>
<polygon points="754.30,579.20 742.70,577.00 742.70,581.40" fill="#0d0d0d"/>
<text class="d" x="738.80" y="575.00" font-size="23.8" text-anchor="middle" textLength="24.00" lengthAdjust="spacingAndGlyphs">38</text>
<path d="M821.9,549.8 A17.2,17.2 0 0 1 856.3,549.8 V607.6 Q856.3,611.4 852.5,611.4 H825.7 Q821.9,611.4 821.9,607.6 Z" stroke="#2a2a2a" stroke-width="1.5" fill="#fff" stroke-linejoin="round" stroke-linecap="round" />
<path d="M825.3,549.5 A13.5,13.5 0 0 1 852.3,549.5 L854,605.8 Q854,608.3 851.5,608.3 H826.2 Q823.8,608.3 823.8,605.8 Z" stroke="#2a2a2a" stroke-width="1.25" fill="none" stroke-linejoin="round" stroke-linecap="round" />
<line x1="839.40" y1="531.60" x2="839.40" y2="612.20" stroke="#6e6e6e" stroke-width="0.8" />
<line x1="839.60" y1="532.10" x2="899.50" y2="532.10" stroke="#6e6e6e" stroke-width="0.8" />
<line x1="839.60" y1="611.70" x2="899.50" y2="611.70" stroke="#6e6e6e" stroke-width="0.8" />
<line x1="897.10" y1="532.20" x2="897.10" y2="611.60" stroke="#3c3c3c" stroke-width="0.95" />
<polygon points="897.10,532.20 893.70,544.40 900.50,544.40" fill="#0d0d0d"/>
<polygon points="897.10,611.60 893.70,599.40 900.50,599.40" fill="#0d0d0d"/>
<text class="d" transform="translate(894.70,570.90) rotate(-90)" x="0" y="0" font-size="28.5" text-anchor="middle" textLength="31.00" lengthAdjust="spacingAndGlyphs">105</text>
<line x1="688.40" y1="514.20" x2="711.60" y2="514.20" stroke="#6e6e6e" stroke-width="0.8" />
<line x1="688.40" y1="585.00" x2="711.60" y2="585.00" stroke="#6e6e6e" stroke-width="0.8" />
<line x1="690.80" y1="514.40" x2="690.80" y2="584.80" stroke="#3c3c3c" stroke-width="0.95" />
<polygon points="690.80,514.40 687.40,526.60 694.20,526.60" fill="#0d0d0d"/>
<polygon points="690.80,584.80 687.40,572.60 694.20,572.60" fill="#0d0d0d"/>
<text class="d" transform="translate(687.40,550.30) rotate(-90)" x="0" y="0" font-size="26" text-anchor="middle" textLength="24.40" lengthAdjust="spacingAndGlyphs">95</text>
<line x1="771.50" y1="635.60" x2="771.50" y2="779.50" stroke="#3c3c3c" stroke-width="0.95" />
<line x1="813.40" y1="635.60" x2="813.40" y2="684.50" stroke="#3c3c3c" stroke-width="0.95" />
<line x1="771.50" y1="638.00" x2="813.40" y2="638.00" stroke="#3c3c3c" stroke-width="0.95" />
<polygon points="771.50,638.00 783.00,635.00 783.00,641.00" fill="#0d0d0d"/>
<polygon points="813.40,638.00 801.90,635.00 801.90,641.00" fill="#0d0d0d"/>
<text class="d" x="794.40" y="632.70" font-size="25.5" text-anchor="middle" textLength="25.40" lengthAdjust="spacingAndGlyphs">56</text>
<line x1="718.20" y1="635.80" x2="718.20" y2="678.40" stroke="#3c3c3c" stroke-width="0.95" />
<line x1="718.20" y1="661.20" x2="771.50" y2="661.20" stroke="#3c3c3c" stroke-width="0.95" />
<polygon points="718.20,661.20 729.70,658.20 729.70,664.20" fill="#0d0d0d"/>
<polygon points="771.50,661.20 760.00,658.20 760.00,664.20" fill="#0d0d0d"/>
<text class="d" x="745.60" y="656.40" font-size="24.3" text-anchor="middle" textLength="21.80" lengthAdjust="spacingAndGlyphs">72</text>
<path d="M718.2,668.9 H720.4 V732.9 H718.2" stroke="#a5a5a5" stroke-width="0.8" fill="none" stroke-linejoin="round" stroke-linecap="round" />
<rect x="718.30" y="678.50" width="37.70" height="44.70" rx="0" stroke="#2a2a2a" stroke-width="1.2" fill="#fff" />
<circle cx="731.3" cy="694.8" r="11.5" fill="none" stroke="#8c8c8c" stroke-width="0.8" stroke-dasharray="3.2 1.6"/>
<rect x="756.00" y="678.50" width="14.60" height="44.70" rx="0" stroke="#1a1a1a" stroke-width="0.6" fill="#262626" />
<line x1="760.80" y1="679.00" x2="760.80" y2="722.80" stroke="#454545" stroke-width="0.6" />
<line x1="765.60" y1="679.00" x2="765.60" y2="722.80" stroke="#454545" stroke-width="0.6" />
<rect x="771.60" y="665.20" width="2.20" height="71.40" rx="0" stroke="#6a6a6a" stroke-width="0.8" fill="#e2e2e2" />
<path d="M774.0,684.3 H792.8 V694.6 M792.8,708.4 V717.6 H774.0" stroke="#2a2a2a" stroke-width="1.2" fill="none" stroke-linejoin="round" stroke-linecap="round" />
<line x1="792.80" y1="684.60" x2="792.80" y2="694.40" stroke="#222" stroke-width="1.6" />
<line x1="792.80" y1="708.60" x2="792.80" y2="716.20" stroke="#222" stroke-width="1.6" />
<path d="M774.0,694.5 H921.6 Q923.6,694.5 923.6,696.5 Q923.4,701 921.2,704 Q918.4,708.3 912.6,708.3 H774.0" stroke="#2a2a2a" stroke-width="1.2" fill="none" stroke-linejoin="round" stroke-linecap="round" />
<line x1="898.20" y1="709.00" x2="911.60" y2="709.00" stroke="#151515" stroke-width="1.5" />
<path d="M792.9,684.6 Q794.4,688.5 794.9,694.3" stroke="#2a2a2a" stroke-width="1.2" fill="none" stroke-linejoin="round" stroke-linecap="round" />
<path d="M797.4,694.3 L801,684.4 H812.8" stroke="#2a2a2a" stroke-width="1.0" fill="none" stroke-linejoin="round" stroke-linecap="round" />
<line x1="812.90" y1="684.40" x2="812.90" y2="694.40" stroke="#222" stroke-width="1.5" />
<path d="M792.8,717.6 H804.2 L805.7,708.5" stroke="#2a2a2a" stroke-width="1.0" fill="none" stroke-linejoin="round" stroke-linecap="round" />
<path d="M805.7,708.5 L808,720 L811,761.6 Q811.1,762.8 812.2,762.8 H812.6 Q813.4,762.8 813.4,761.8 V708.5" stroke="#2a2a2a" stroke-width="1.0" fill="none" stroke-linejoin="round" stroke-linecap="round" />
<line x1="805.90" y1="709.00" x2="808.00" y2="720.00" stroke="#222" stroke-width="1.5" />
<line x1="683.00" y1="668.90" x2="719.00" y2="668.90" stroke="#3c3c3c" stroke-width="0.95" />
<line x1="683.00" y1="733.00" x2="719.00" y2="733.00" stroke="#3c3c3c" stroke-width="0.95" />
<line x1="691.60" y1="669.10" x2="691.60" y2="732.80" stroke="#3c3c3c" stroke-width="0.95" />
<polygon points="691.60,669.10 688.20,681.30 695.00,681.30" fill="#0d0d0d"/>
<polygon points="691.60,732.80 688.20,720.60 695.00,720.60" fill="#0d0d0d"/>
<text class="d" transform="translate(687.40,699.90) rotate(-90)" x="0" y="0" font-size="26" text-anchor="middle" textLength="23.60" lengthAdjust="spacingAndGlyphs">86</text>
<line x1="702.50" y1="678.50" x2="718.20" y2="678.50" stroke="#3c3c3c" stroke-width="0.95" />
<line x1="702.50" y1="723.20" x2="718.20" y2="723.20" stroke="#3c3c3c" stroke-width="0.95" />
<line x1="712.90" y1="678.70" x2="712.90" y2="723.00" stroke="#3c3c3c" stroke-width="0.95" />
<polygon points="712.90,678.70 709.90,690.20 715.90,690.20" fill="#0d0d0d"/>
<polygon points="712.90,723.00 709.90,711.50 715.90,711.50" fill="#0d0d0d"/>
<text class="d" transform="translate(709.40,699.80) rotate(-90)" x="0" y="0" font-size="24" text-anchor="middle" textLength="24.80" lengthAdjust="spacingAndGlyphs">60</text>
<line x1="905.90" y1="710.50" x2="905.90" y2="779.50" stroke="#3c3c3c" stroke-width="0.95" />
<line x1="771.50" y1="776.90" x2="905.90" y2="776.90" stroke="#3c3c3c" stroke-width="0.95" />
<polygon points="771.50,776.90 783.70,773.50 783.70,780.30" fill="#0d0d0d"/>
<polygon points="905.90,776.90 893.70,773.50 893.70,780.30" fill="#0d0d0d"/>
<text class="d" x="842.90" y="772.30" font-size="25.5" text-anchor="middle" textLength="47.30" lengthAdjust="spacingAndGlyphs">179.6</text>
</svg>
</body>
</html>
